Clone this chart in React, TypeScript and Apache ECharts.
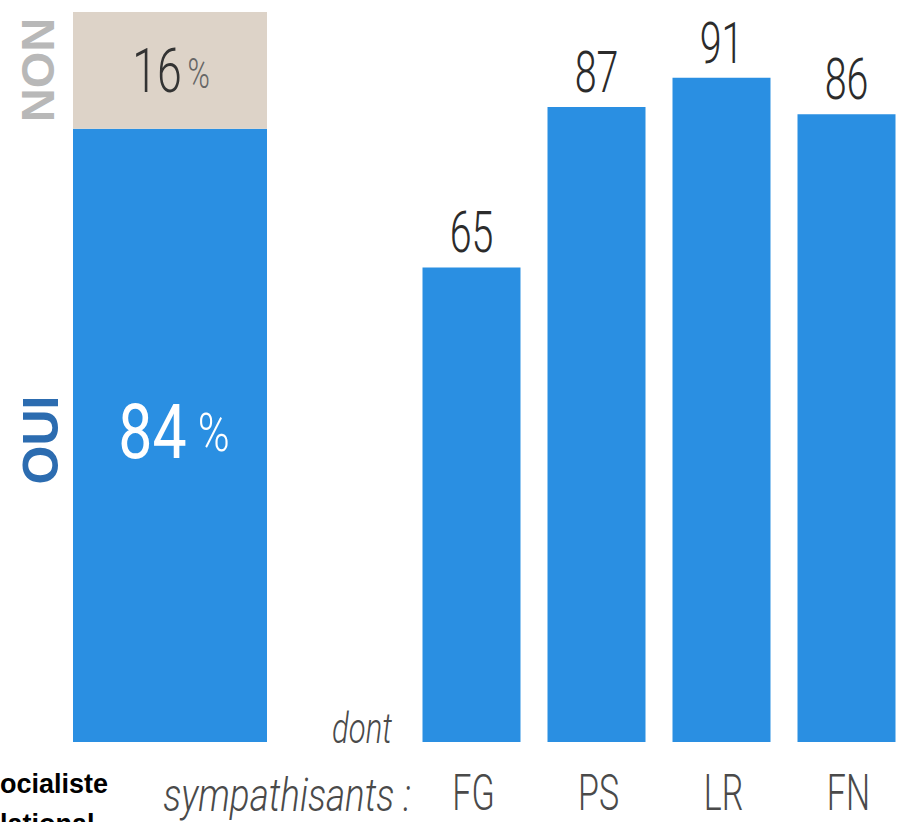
import React, { useEffect, useRef } from "react";
import * as echarts from "echarts";

// ---- data ----
const overallCategory = ["Ensemble"];
const ouiValues = [84];
const nonValues = [16];
const partyCategories = ["FG", "PS", "LR", "FN"];
const partyValues = [65, 87, 91, 86];

const THIN = 'Roboto, "Noto Sans", sans-serif';
const BOLD = '"Liberation Sans", Arial, sans-serif';
const BLUE = "#2a8fe2";
const BEIGE = "#ddd3c8";

export default function App() {
  const ref = useRef<HTMLDivElement>(null);
  useEffect(() => {
    if (!ref.current) return;
    const chart = echarts.init(ref.current, null, { renderer: "svg" });
    chart.setOption({
      animation: false,
      backgroundColor: "#ffffff",
      grid: [
        { left: 73, top: 12, width: 194, height: 730 },
        { left: 409, top: 12, width: 508, height: 730 },
      ],
      xAxis: [
        { type: "category", gridIndex: 0, data: overallCategory, show: false },
        {
          type: "category",
          gridIndex: 1,
          data: partyCategories,
          axisLine: { show: false },
          axisTick: { show: false },
          axisLabel: { show: false },
        },
      ],
      yAxis: [
        { type: "value", gridIndex: 0, min: 0, max: 100, show: false },
        { type: "value", gridIndex: 1, min: 0, max: 100, show: false },
      ],
      series: [
        {
          type: "bar",
          xAxisIndex: 0,
          yAxisIndex: 0,
          stack: "all",
          data: ouiValues,
          barWidth: 194,
          itemStyle: { color: BLUE },
        },
        {
          type: "bar",
          xAxisIndex: 0,
          yAxisIndex: 0,
          stack: "all",
          data: nonValues,
          barWidth: 194,
          itemStyle: { color: BEIGE },
        },
        {
          type: "bar",
          xAxisIndex: 1,
          yAxisIndex: 1,
          data: partyValues,
          barWidth: 98,
          itemStyle: { color: BLUE },
        },
      ],
    });

    // labels placed through the library's own scales
    const f0 = { xAxisIndex: 0, yAxisIndex: 0 };
    const f1 = { xAxisIndex: 1, yAxisIndex: 1 };
    const graphics: any[] = [];

    const [ouiX, ouiY] = chart.convertToPixel(f0 as any, [overallCategory[0], ouiValues[0] / 2]) as number[];
    graphics.push({
      type: "text",
      z: 100,
      x: ouiX + 4,
      y: ouiY - 3,
      scaleX: 0.8,
      style: {
        text: `{n|${ouiValues[0]}}{p|%}`,
        align: "center",
        verticalAlign: "middle",
        rich: {
          n: { fontSize: 76, fontFamily: THIN, fontWeight: 400, fill: "#ffffff" },
          p: { fontSize: 54, fontFamily: THIN, fontWeight: 300, fill: "#ffffff", padding: [0, 0, 0, 14] },
        },
      },
    });
    const [nonX, nonY] = chart.convertToPixel(f0 as any, [overallCategory[0], ouiValues[0] + nonValues[0] / 2]) as number[];
    graphics.push({
      type: "text",
      z: 100,
      x: nonX + 1,
      y: nonY,
      scaleX: 0.72,
      style: {
        text: `{n|${nonValues[0]}}{p|%}`,
        align: "center",
        verticalAlign: "middle",
        rich: {
          n: { fontSize: 62, fontFamily: THIN, fontWeight: 300, fill: "#333333" },
          p: { fontSize: 42, fontFamily: THIN, fontWeight: 300, fill: "#666666", padding: [6, 0, 0, 8] },
        },
      },
    });

    partyCategories.forEach((c, i) => {
      const [x, y] = chart.convertToPixel(f1 as any, [c, partyValues[i]]) as number[];
      graphics.push({
        type: "text",
        z: 100,
        x,
        y: y - 35,
        scaleX: 0.68,
        style: {
          text: String(partyValues[i]),
          align: "center",
          verticalAlign: "middle",
          font: `300 58px ${THIN}`,
          fill: "#2b2b2b",
        },
      });
      const [bx, by] = chart.convertToPixel(f1 as any, [c, 0]) as number[];
      graphics.push({
        type: "text",
        z: 100,
        x: bx + 2,
        y: by + 50,
        scaleX: 0.68,
        style: {
          text: c,
          align: "center",
          verticalAlign: "middle",
          font: `300 50px ${THIN}`,
          lineHeight: 42,
          fill: "#4a4a4a",
        },
      });
    });

    graphics.push(
      {
        type: "text",
        z: 100,
        x: 37,
        y: 70,
        rotation: Math.PI / 2,
        style: { text: "NON", align: "center", verticalAlign: "middle", font: `bold 47px ${BOLD}`, fill: "#b8b8b8" },
      },
      {
        type: "text",
        z: 100,
        x: 41,
        y: 440,
        rotation: Math.PI / 2,
        style: { text: "OUI", align: "center", verticalAlign: "middle", font: `bold 50px ${BOLD}`, fill: "#2c6cb0" },
      },
      {
        type: "text",
        z: 100,
        x: 362,
        y: 729,
        scaleX: 0.74,
        style: { text: "dont", align: "center", verticalAlign: "middle", font: `italic 300 42px ${THIN}`, fill: "#4a4a4a" },
      },
      {
        type: "text",
        z: 100,
        x: 287,
        y: 795,
        scaleX: 0.8,
        style: { text: "sympathisants :", align: "center", verticalAlign: "middle", font: `italic 300 46px ${THIN}`, lineHeight: 44, fill: "#4a4a4a" },
      },
      {
        type: "text",
        z: 100,
        x: 0,
        y: 784,
        style: { text: "ocialiste", align: "left", verticalAlign: "middle", font: `bold 27px ${BOLD}`, fill: "#000000" },
      },
      {
        type: "text",
        z: 100,
        x: 0,
        y: 824,
        style: { text: "lational", align: "left", verticalAlign: "middle", font: `bold 27px ${BOLD}`, fill: "#000000" },
      }
    );

    chart.setOption({ graphic: graphics });
    return () => chart.dispose();
  }, []);
  return (
    <div
      ref={ref}
      style={{ position: "absolute", left: 0, top: 0, width: 909, height: 822 }}
    />
  );
}
